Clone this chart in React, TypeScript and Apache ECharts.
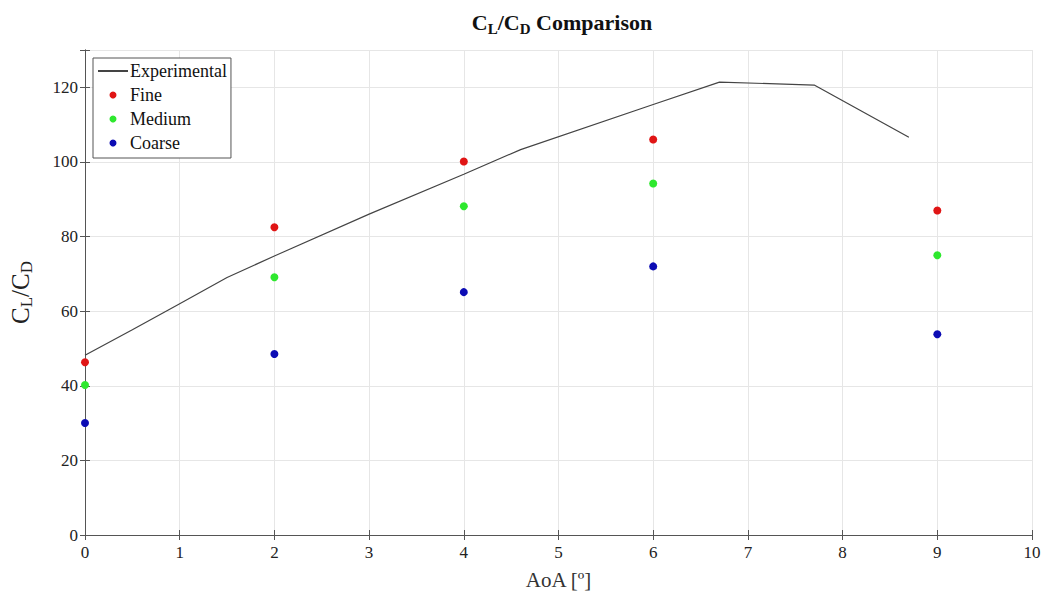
import React, { useEffect, useRef } from "react";
import * as echarts from "echarts";

const expX = [0, 0.5, 1, 1.5, 2, 3, 4, 4.6, 6, 6.7, 7.7, 8.7];
const expY = [48.2, 55, 62, 69, 74.8, 86, 96.7, 103.3, 115.4, 121.4, 120.6, 106.6];
const aoa = [0, 2, 4, 6, 9];
const fine = [46.3, 82.5, 100.1, 106, 87];
const medium = [40.2, 69.1, 88.1, 94.2, 75];
const coarse = [30, 48.5, 65.1, 72, 53.8];

const FONT = "Liberation Serif";
const AXC = "#555";

export default function App() {
  const ref = useRef<HTMLDivElement>(null);
  useEffect(() => {
    const chart = echarts.init(ref.current!, undefined, { renderer: "svg" });
    const pair = (xs: number[], ys: number[]) => xs.map((x, i) => [x, ys[i]]);
    const frameAxis = {
      show: true,
      axisLine: { show: true, lineStyle: { color: AXC, width: 1 } },
      axisTick: { show: true, inside: true, length: 5, lineStyle: { color: AXC } },
      axisLabel: { show: false },
      splitLine: { show: false },
    };
    chart.setOption({
      animation: false,
      backgroundColor: "#fff",
      textStyle: { fontFamily: FONT },
      title: {
        text: "{a|C}{s|L}{a|/C}{s|D}{a| Comparison}",
        left: 557,
        textAlign: "center",
        top: 3,
        textStyle: {
          rich: {
            a: { fontFamily: FONT, fontWeight: "bold", fontSize: 22, color: "#111", lineHeight: 28, verticalAlign: "middle" },
            s: { fontFamily: FONT, fontWeight: "bold", fontSize: 15, color: "#111", lineHeight: 14, verticalAlign: "bottom" },
          },
        },
      },
      legend: {
        orient: "vertical",
        left: 93,
        top: 58,
        itemWidth: 30,
        itemHeight: 7,
        itemGap: 6,
        padding: [4, 4, 6, 4],
        borderColor: AXC,
        borderWidth: 1,
        borderRadius: 0,
        backgroundColor: "#fff",
        textStyle: { fontFamily: FONT, fontSize: 18, color: "#111", padding: [0, 0, 0, -3], lineHeight: 18 },
        data: [
          { name: "Experimental", itemStyle: { opacity: 0 } },
          { name: "Fine", icon: "circle" },
          { name: "Medium", icon: "circle" },
          { name: "Coarse", icon: "circle" },
        ],
      },
      grid: { left: 85, right: 11, top: 50, bottom: 58, containLabel: false, outerBoundsMode: "none" },
      xAxis: [
        {
          type: "value",
          min: 0,
          max: 10,
          interval: 1,
          position: "bottom",
          name: "AoA [º]",
          nameLocation: "middle",
          nameGap: 34,
          nameTextStyle: { fontFamily: FONT, fontSize: 21, color: "#333" },
          axisLine: { show: true, lineStyle: { color: AXC, width: 1 } },
          axisTick: { show: true, inside: true, length: 5, lineStyle: { color: AXC } },
          axisLabel: { fontFamily: FONT, fontSize: 17, color: "#222", margin: 9 },
          splitLine: { show: true, lineStyle: { color: "#e6e6e6", width: 1 } },
        },
        { type: "value", min: 0, max: 10, interval: 1, position: "top", ...frameAxis },
      ],
      yAxis: [
        {
          type: "value",
          min: 0,
          max: 130,
          interval: 20,
          position: "left",
          name: "{a|C}{s|L}{a|/C}{s|D}",
          nameLocation: "middle",
          nameGap: 50,
          nameRotate: 90,
          nameTextStyle: {
            rich: {
              a: { fontFamily: FONT, fontSize: 25, color: "#222", lineHeight: 30, verticalAlign: "middle" },
              s: { fontFamily: FONT, fontSize: 17, color: "#222", lineHeight: 16, verticalAlign: "bottom" },
            },
          },
          axisLine: { show: true, lineStyle: { color: AXC, width: 1 } },
          axisTick: { show: true, inside: true, length: 5, lineStyle: { color: AXC } },
          axisLabel: {
            fontFamily: FONT,
            fontSize: 17,
            color: "#222",
            margin: 7,
            formatter: (v: number) => (v > 120 ? "" : String(v)),
          },
          splitLine: { show: true, lineStyle: { color: "#e6e6e6", width: 1 } },
        },
        { type: "value", min: 0, max: 130, interval: 20, position: "right", ...frameAxis },
      ],
      series: [
        {
          name: "Experimental",
          type: "line",
          data: pair(expX, expY),
          showSymbol: false,
          symbol: "none",
          lineStyle: { color: "#444", width: 1.2 },
          itemStyle: { color: "#444" },
          z: 3,
        },
        {
          name: "Fine",
          type: "scatter",
          data: pair(aoa, fine),
          symbolSize: 8,
          itemStyle: { color: "#e01515", opacity: 1 },
          z: 4,
        },
        {
          name: "Medium",
          type: "scatter",
          data: pair(aoa, medium),
          symbolSize: 8,
          itemStyle: { color: "#2ee82e", opacity: 1 },
          z: 4,
        },
        {
          name: "Coarse",
          type: "scatter",
          data: pair(aoa, coarse),
          symbolSize: 8,
          itemStyle: { color: "#0c0cb4", opacity: 1 },
          z: 4,
        },
      ],
    });
    return () => chart.dispose();
  }, []);
  return (
    <div
      ref={ref}
      style={{ position: "absolute", left: 0, top: 0, width: 1043, height: 593 }}
    />
  );
}
